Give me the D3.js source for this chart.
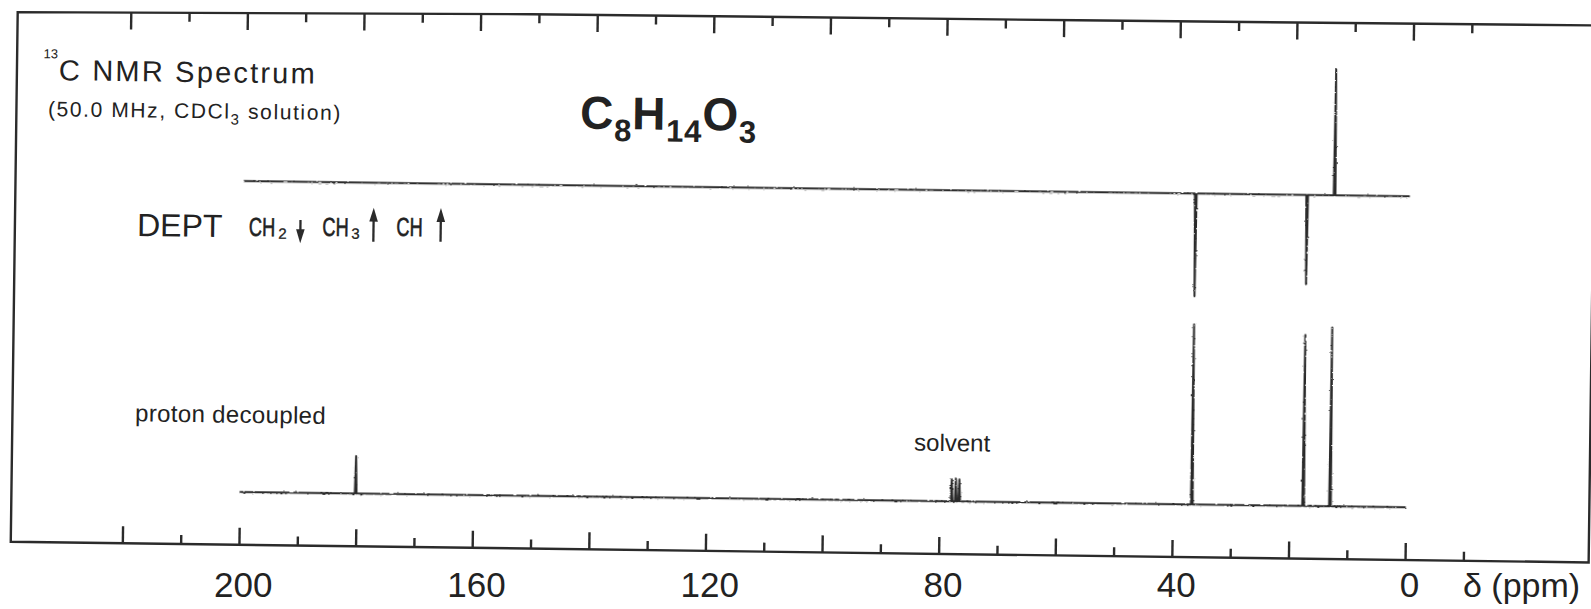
<!DOCTYPE html>
<html><head><meta charset="utf-8">
<script src="https://cdn.jsdelivr.net/npm/d3@7"></script>
<style>
body{margin:0;background:#fff}
svg{display:block}
text{font-family:"Liberation Sans",Arial,Helvetica,sans-serif;fill:#222}
</style>
</head><body>
<svg id="chart" width="1591" height="609"></svg>
<script>
// ---- data ----
const majorTicks = [220, 200, 180, 160, 140, 120, 100, 80, 60, 40, 20, 0];
const minorTicks = [210, 190, 170, 150, 130, 110, 90, 70, 50, 30, 10, -10];
const tickLabels = [200, 160, 120, 80, 40, 0];
const spectrumRange = [200, 0];                 // ppm span of recorded traces
// proton decoupled spectrum (ppm, relative intensity)
const decShift = [180.1, 77.9, 77.2, 76.6, 36.7, 17.6, 13.0];
const decInt   = [20.8, 12.2, 12.6, 12.2, 100, 95, 99.4];
// DEPT spectrum (CH2 down, CH3 / CH up)
const deptShift = [36.7, 17.6, 12.9];
const deptInt   = [-57, -49.5, 70];

// ---- layout ----
const svg = d3.select("#chart");
const defs = svg.append("defs");
const flt = defs.append("filter").attr("id", "rough")
  .attr("x", "-2%").attr("y", "-20%").attr("width", "104%").attr("height", "140%");
flt.append("feTurbulence").attr("type", "fractalNoise").attr("baseFrequency", "0.35 0.6")
  .attr("numOctaves", 1).attr("seed", 3).attr("result", "n");
flt.append("feDisplacementMap").attr("in", "SourceGraphic").attr("in2", "n")
  .attr("scale", 2.6).attr("xChannelSelector", "R").attr("yChannelSelector", "G");

const g = svg.append("g").attr("transform", "rotate(0.75,795,300)");
const frame = {left: 14, right: 1592, bottom: 552};
// scanned page: top rule is not perfectly parallel to the bottom rule
const topY = d3.scaleLinear().domain([14, 528, 1075, 1592]).range([22.3, 17.7, 16.6, 15.0]);
const x = d3.scaleLinear().domain([200, 0]).range([242.2, 1408.4]);
const h = d3.scaleLinear().domain([0, 100]).range([0, 180]);
const decBase = 499.3, deptBase = 188.3;
const ink = "#2b2b2b";

// frame
const fr = d3.line();
g.append("path")
  .attr("d", fr([[frame.left, frame.bottom], [frame.left, topY(frame.left)],
                 ...topY.domain().slice(1, -1).map(v => [v, topY(v)]),
                 [frame.right, topY(frame.right)], [frame.right, frame.bottom]]) + "Z")
  .attr("fill", "none").attr("stroke", ink).attr("stroke-width", 2.4)
  .attr("stroke-linejoin", "miter");

// bottom ticks (pointing up) via d3 axis
const axB = d3.axisTop(x).tickValues(majorTicks).tickSize(17).tickFormat("");
const axBm = d3.axisTop(x).tickValues(minorTicks).tickSize(9).tickFormat("");
[axB, axBm].forEach(ax => {
  const a = g.append("g").attr("transform", `translate(0,${frame.bottom})`).call(ax);
  a.select(".domain").remove();
  a.selectAll("line").attr("stroke", ink).attr("stroke-width", 2.4);
});
// top ticks (hanging from the top rule)
[[majorTicks, 17], [minorTicks, 9]].forEach(([vals, len]) => {
  g.append("g").selectAll("line").data(vals).join("line")
    .attr("x1", d => x(d) + 2).attr("x2", d => x(d) + 2)
    .attr("y1", d => topY(x(d) + 2)).attr("y2", d => topY(x(d) + 2) + len)
    .attr("stroke", ink).attr("stroke-width", 2.4);
});

// tick labels (printed level, not tilted)
const lab = svg.append("g");
lab.selectAll("text").data(tickLabels).join("text")
  .attr("x", d => x(d) + 1).attr("y", 597).attr("text-anchor", "middle")
  .style("font-size", "35px").text(d => d);
lab.append("text").attr("x", 1463).attr("y", 597).style("font-size", "34px").text("δ (ppm)");

// spectra traces
function tracePoints(shifts, ints) {
  const pts = [{p: spectrumRange[0], v: 0}];
  const order = d3.range(shifts.length).sort((a, b) => shifts[b] - shifts[a]);
  order.forEach(i => {
    pts.push({p: shifts[i] + 0.15, v: 0});
    pts.push({p: shifts[i], v: ints[i]});
    pts.push({p: shifts[i] - 0.15, v: 0});
  });
  pts.push({p: spectrumRange[1], v: 0});
  return pts;
}
function drawTrace(shifts, ints, base) {
  const line = d3.line().x(d => x(d.p)).y(d => base - h(d.v));
  g.append("path").attr("d", line(tracePoints(shifts, ints)))
    .attr("fill", "none").attr("stroke", ink).attr("stroke-width", 2)
    .attr("stroke-linejoin", "round").attr("filter", "url(#rough)");
}
drawTrace(decShift, decInt, decBase);
drawTrace(deptShift, deptInt, deptBase);

// texts
g.append("text").attr("x", 40.5).attr("y", 68).style("font-size", "13px").text("13");
g.append("text").attr("x", 56).attr("y", 89.8).style("font-size", "29px")
  .style("letter-spacing", "2.2px").text("C NMR Spectrum");
const sub = g.append("text").attr("x", 45.6).attr("y", 126).style("font-size", "21px")
  .style("letter-spacing", "1.6px");
sub.append("tspan").text("(50.0 MHz, CDCl");
sub.append("tspan").attr("dy", 6).style("font-size", "15px").text("3");
sub.append("tspan").attr("dy", -6).text(" solution)");

const f = g.append("text").attr("x", 577.8).attr("y", 131.3)
  .style("font-size", "46px").style("font-weight", "bold").style("letter-spacing", "0.8px");
[["C", 0], ["8", 1], ["H", 0], ["14", 1], ["O", 0], ["3", 1]].forEach(([t, s], i, arr) => {
  const prev = i > 0 ? arr[i - 1][1] : 0;
  const dy = (s - prev) * 12;
  f.append("tspan").attr("dy", dy).style("font-size", s ? "31px" : "46px").text(t);
});

g.append("text").attr("x", 136.2).attr("y", 244.6).style("font-size", "32px").text("DEPT");

// condensed "CH" group labels with subscripts
function chLabel(xp, yp, n, xs) {
  g.append("g").attr("transform", `translate(${xp},${yp}) scale(0.7,1)`)
    .append("text").style("font-size", "26px")
    .style("stroke", "#222").style("stroke-width", 0.6).text("CH");
  if (n) g.append("text").attr("x", xs).attr("y", yp + 2.5).style("font-size", "15px")
    .style("stroke", "#222").style("stroke-width", 0.3).text(n);
}
chLabel(248, 243, "2", 277.5);
chLabel(321.5, 242, "3", 350.5);
chLabel(395.5, 241, "", 0);
function arrow(xp, y1, y2) { // from y1 to tip at y2
  const dir = Math.sign(y2 - y1);
  g.append("line").attr("x1", xp).attr("x2", xp).attr("y1", y1).attr("y2", y2 - dir * 10)
    .attr("stroke", ink).attr("stroke-width", 2.3);
  g.append("path").attr("d", `M${xp - 4.3},${y2 - dir * 14}L${xp + 4.3},${y2 - dir * 14}L${xp},${y2}Z`)
    .attr("fill", ink);
}
arrow(299.5, 226.4, 249.7);
arrow(372.6, 247.2, 213.2);
arrow(439.8, 246.3, 212.6);

g.append("text").attr("x", 136.6).attr("y", 430).style("font-size", "24px")
  .style("letter-spacing", "0.35px").text("proton decoupled");
g.append("text").attr("x", 916).attr("y", 449).style("font-size", "24px").text("solvent");
</script>
</body></html>
